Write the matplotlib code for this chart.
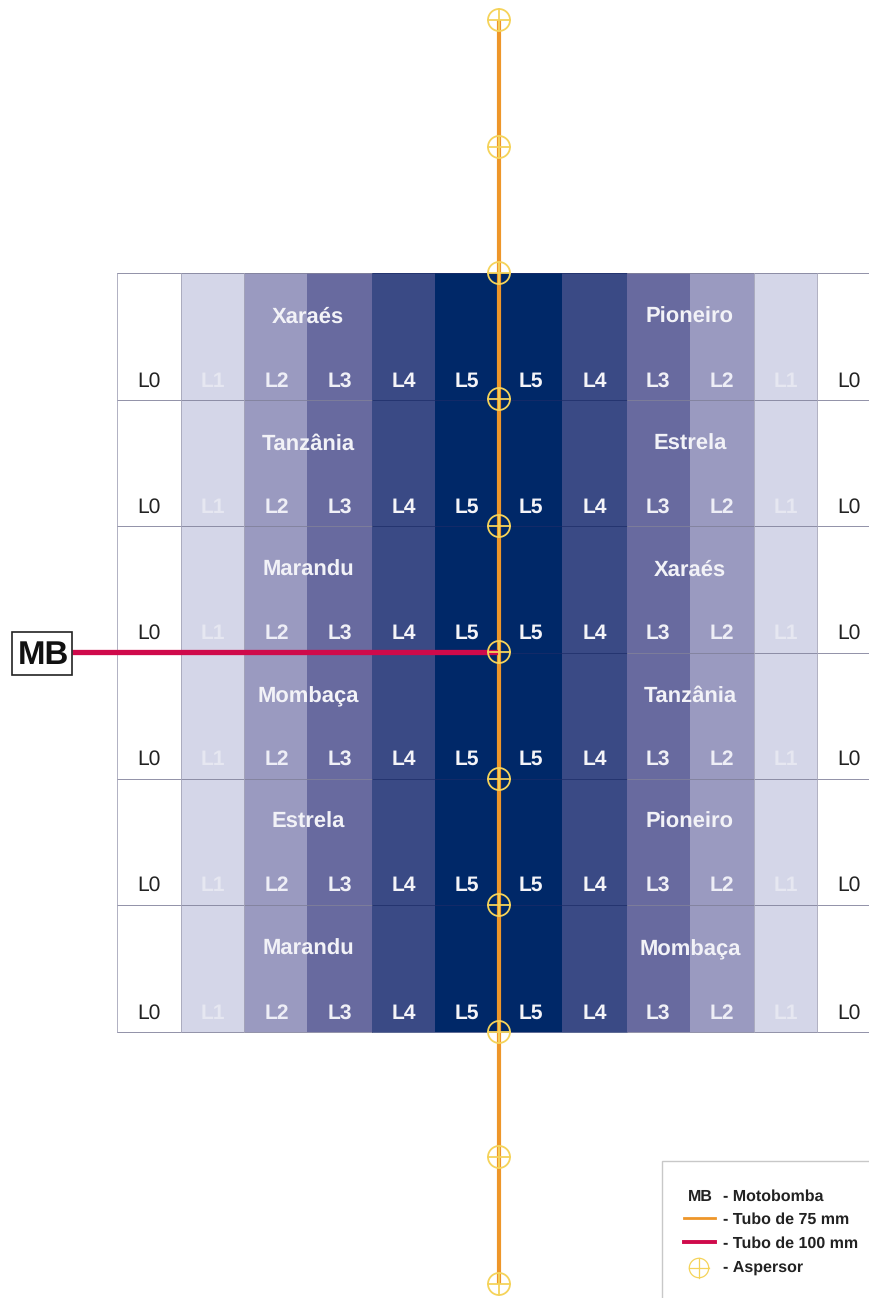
import matplotlib
matplotlib.use('AGG')
import matplotlib.pyplot as plt
from matplotlib.patches import Rectangle
import numpy as np

plt.rcParams['font.family'] = ['Liberation Sans', 'DejaVu Sans']
plt.rcParams['text.hinting'] = 'none'
plt.rcParams['text.hinting_factor'] = 1

# irrigation levels across the strip, left to right
levels = ['L0', 'L1', 'L2', 'L3', 'L4', 'L5', 'L5', 'L4', 'L3', 'L2', 'L1', 'L0']
left_cultivars = ['Xaraés', 'Tanzânia', 'Marandu', 'Mombaça', 'Estrela', 'Marandu']
right_cultivars = ['Pioneiro', 'Estrela', 'Xaraés', 'Tanzânia', 'Pioneiro', 'Mombaça']
level_colors = {'L0': '#ffffff', 'L1': '#d4d6e8', 'L2': '#9a9ac0', 'L3': '#686a9f',
                'L4': '#3a4a85', 'L5': '#002868'}
label_colors = {'L0': '#222222', 'L1': '#e6e7f1', 'L2': '#eeeef6', 'L3': '#f0f0f6',
                'L4': '#f4f4f8', 'L5': '#f4f4f8'}

# picture layout, in pixels
col_edges = [117, 181, 244, 307, 372, 435, 499, 562, 627, 690, 754, 817, 880]
row_edges = [273, 399.5, 526, 652.5, 779, 905, 1032]
level_x = [149, 213, 277, 340, 404, 467, 531, 595, 658, 722, 786, 849]
level_y = [387, 513, 639, 765, 891, 1019]
cultivar_y = [323, 450, 576, 702, 828, 955]
sprinkler_y = [20, 147, 273, 399, 526, 652, 779, 905, 1032, 1157, 1284]
main_x = 499

fig = plt.figure(figsize=(8.69, 12.98), dpi=100)
ax = fig.add_axes([0, 0, 1, 1])
ax.set_xlim(0, 869)
ax.set_ylim(1298, 0)
ax.axis('off')

# level strips
for i, lev in enumerate(levels):
    ax.add_patch(Rectangle((col_edges[i], row_edges[0]), col_edges[i + 1] - col_edges[i],
                           row_edges[-1] - row_edges[0], fc=level_colors[lev], ec='none', zorder=1))

# grid lines, they fade out over the dark strips
for y in row_edges:
    ax.plot([117, 372], [y, y], color='#80809a', lw=0.6, zorder=2)
    ax.plot([372, 627], [y, y], color='#1c2c68', lw=0.5, zorder=2)
    ax.plot([627, 869], [y, y], color='#80809a', lw=0.6, zorder=2)
for x in col_edges[:3] + col_edges[10:12]:
    ax.plot([x, x], [row_edges[0], row_edges[-1]], color='#a4a4b8', lw=0.6, zorder=2)

# text in the cells
for r in range(6):
    for lev, x in zip(levels, level_x):
        ax.text(x, level_y[r], lev, ha='center', va='baseline', fontsize=15,
                color=label_colors[lev], fontweight='normal' if lev == 'L0' else 'bold', zorder=3)
    ax.text(308, cultivar_y[r], left_cultivars[r], ha='center', va='baseline', fontsize=16,
            color='#f2f2f7', fontweight='bold', zorder=3)
    ax.text(690, cultivar_y[r], right_cultivars[r], ha='center', va='baseline', fontsize=16,
            color='#f2f2f7', fontweight='bold', zorder=3)

# pipes
ax.plot([main_x, main_x], [sprinkler_y[0], sprinkler_y[-1]], color='#ee9629', lw=3,
        solid_capstyle='butt', zorder=4)
ax.plot([72, main_x], [652, 652], color='#cf0a4b', lw=3.8, solid_capstyle='butt', zorder=5)


def sprinkler(x, y, r=11, lw=1.3):
    t = np.linspace(0, 2 * np.pi, 60)
    ax.plot(x + r * np.cos(t), y + r * np.sin(t), color='#f5d35a', lw=lw, zorder=6)
    ax.plot([x - r, x + r], [y, y], color='#f5d35a', lw=lw, zorder=6)
    ax.plot([x, x], [y - r, y + r], color='#f5d35a', lw=lw, zorder=6)


for y in sprinkler_y:
    sprinkler(main_x, y)

# motor pump box
ax.add_patch(Rectangle((11.5, 631.5), 60.5, 43, fc='white', ec='#222222', lw=1.2, zorder=6))
ax.text(43, 664, 'MB', ha='center', va='baseline', fontsize=24, fontweight='bold',
        color='#111111', zorder=7)

# legend
ax.add_patch(Rectangle((662, 1160.5), 230, 160, fc='white', ec='#c8c8c8', lw=1.0, zorder=6))
ax.text(688, 1201, 'MB', va='baseline', fontsize=11.5, fontweight='bold', color='#222222', zorder=7)
ax.plot([684, 715], [1218, 1218], color='#ee9629', lw=2, zorder=7)
ax.plot([684, 715], [1242, 1242], color='#cf0a4b', lw=2.8, zorder=7)
sprinkler(699, 1268, r=9.7, lw=0.9)
for y, txt in zip([1201, 1224, 1248, 1272],
                  ['- Motobomba', '- Tubo de 75 mm', '- Tubo de 100 mm', '- Aspersor']):
    ax.text(723, y, txt, va='baseline', fontsize=11.5, fontweight='bold', color='#222222', zorder=7)

fig.savefig('out.png', dpi=100)
